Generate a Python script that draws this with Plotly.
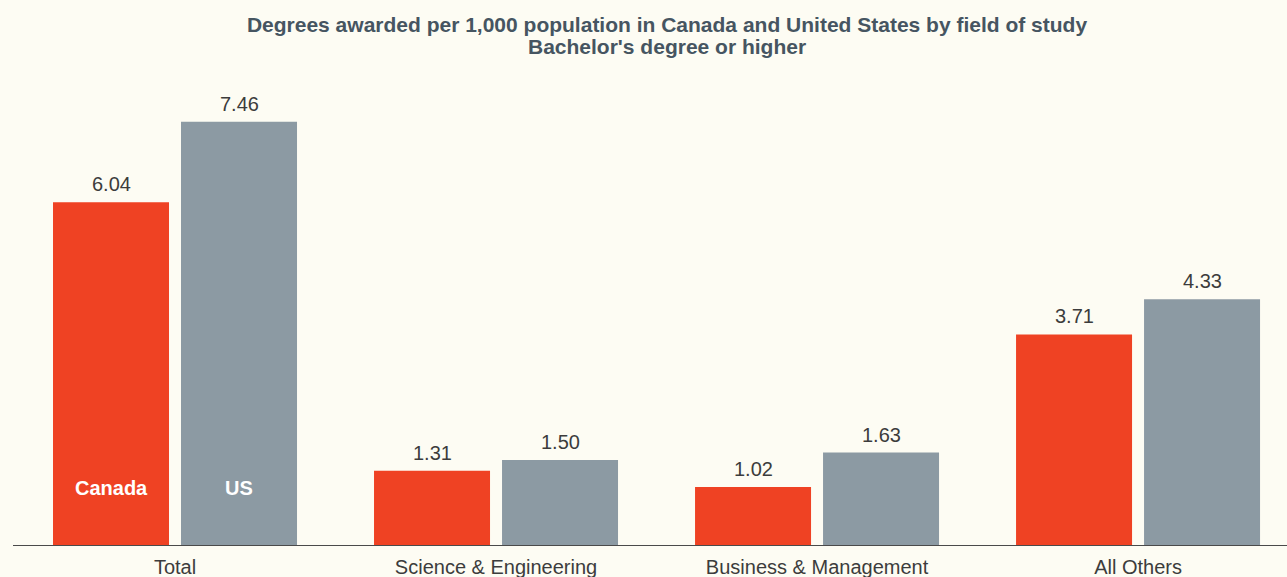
import plotly.graph_objects as go

# Degrees awarded per 1,000 population, by field of study
categories = ["Total", "Science & Engineering", "Business & Management", "All Others"]
canada = [6.04, 1.31, 1.02, 3.71]
united_states = [7.46, 1.50, 1.63, 4.33]
series_names = ["Canada", "US"]

RED = "#ef4223"
GREY = "#8c9aa3"
BG = "#fdfcf3"
TEXT = "#3c3c3c"
TITLE = "#465561"
FONT = "Liberation Sans, Arial, Helvetica, sans-serif"
SLOT = 64  # pixel offset of each bar centre from its category centre

# plot-area geometry in pixels
W, H = 1287, 577
LEFT, TOP, BOTTOM = 13, 80, 545

fig = go.Figure()
for name, values, color, shift in [(series_names[0], canada, RED, -SLOT),
                                   (series_names[1], united_states, GREY, SLOT)]:
    fig.add_trace(go.Bar(
        name=name,
        x=categories,
        y=values,
        marker=dict(color=color, line=dict(width=0)),
        hoverinfo="skip",
    ))
    # value labels above each bar
    for cat, v in zip(categories, values):
        fig.add_annotation(
            x=cat, y=v, xref="x", yref="y",
            text=f"{v:.2f}", showarrow=False,
            xshift=shift, yanchor="bottom", yshift=5,
            font=dict(family=FONT, size=20, color=TEXT),
        )

# series names written inside the first group of bars
for name, shift in [(series_names[0], -SLOT), (series_names[1], SLOT)]:
    fig.add_annotation(
        x=categories[0], y=0, xref="x", yref="y",
        text=f"<b>{name}</b>", showarrow=False,
        xshift=shift, yanchor="bottom", yshift=44,
        font=dict(family=FONT, size=20, color="white"),
    )

# second title line, set tight under the first
fig.add_annotation(
    xref="paper", yref="paper",
    x=(667 - LEFT) / (W - LEFT),
    y=(BOTTOM - 46) / (BOTTOM - TOP),
    text="<b>Bachelor's degree or higher</b>", showarrow=False,
    xanchor="center", yanchor="middle",
    font=dict(family=FONT, size=21, color=TITLE),
)

fig.update_layout(
    width=W, height=H,
    margin=dict(l=LEFT, r=0, t=TOP, b=H - BOTTOM),
    paper_bgcolor=BG, plot_bgcolor=BG,
    barmode="group", bargap=0.2025, bargroupgap=0.09375,
    showlegend=False,
    title=dict(
        text="<b>Degrees awarded per 1,000 population in Canada and United States by field of study</b>",
        x=667 / W, xanchor="center", y=1 - 25 / H, yanchor="middle",
        font=dict(family=FONT, size=21, color=TITLE),
    ),
    xaxis=dict(
        range=[-0.5047, 3.464], showgrid=False, zeroline=False,
        showline=True, linecolor="#4a4a4a", linewidth=1.2,
        ticks="", tickfont=dict(family=FONT, size=20, color=TEXT),
        ticklabelstandoff=4,
    ),
    yaxis=dict(
        range=[0, 8.194], visible=False, showgrid=False, zeroline=False,
    ),
)

fig.write_html("out.html")
